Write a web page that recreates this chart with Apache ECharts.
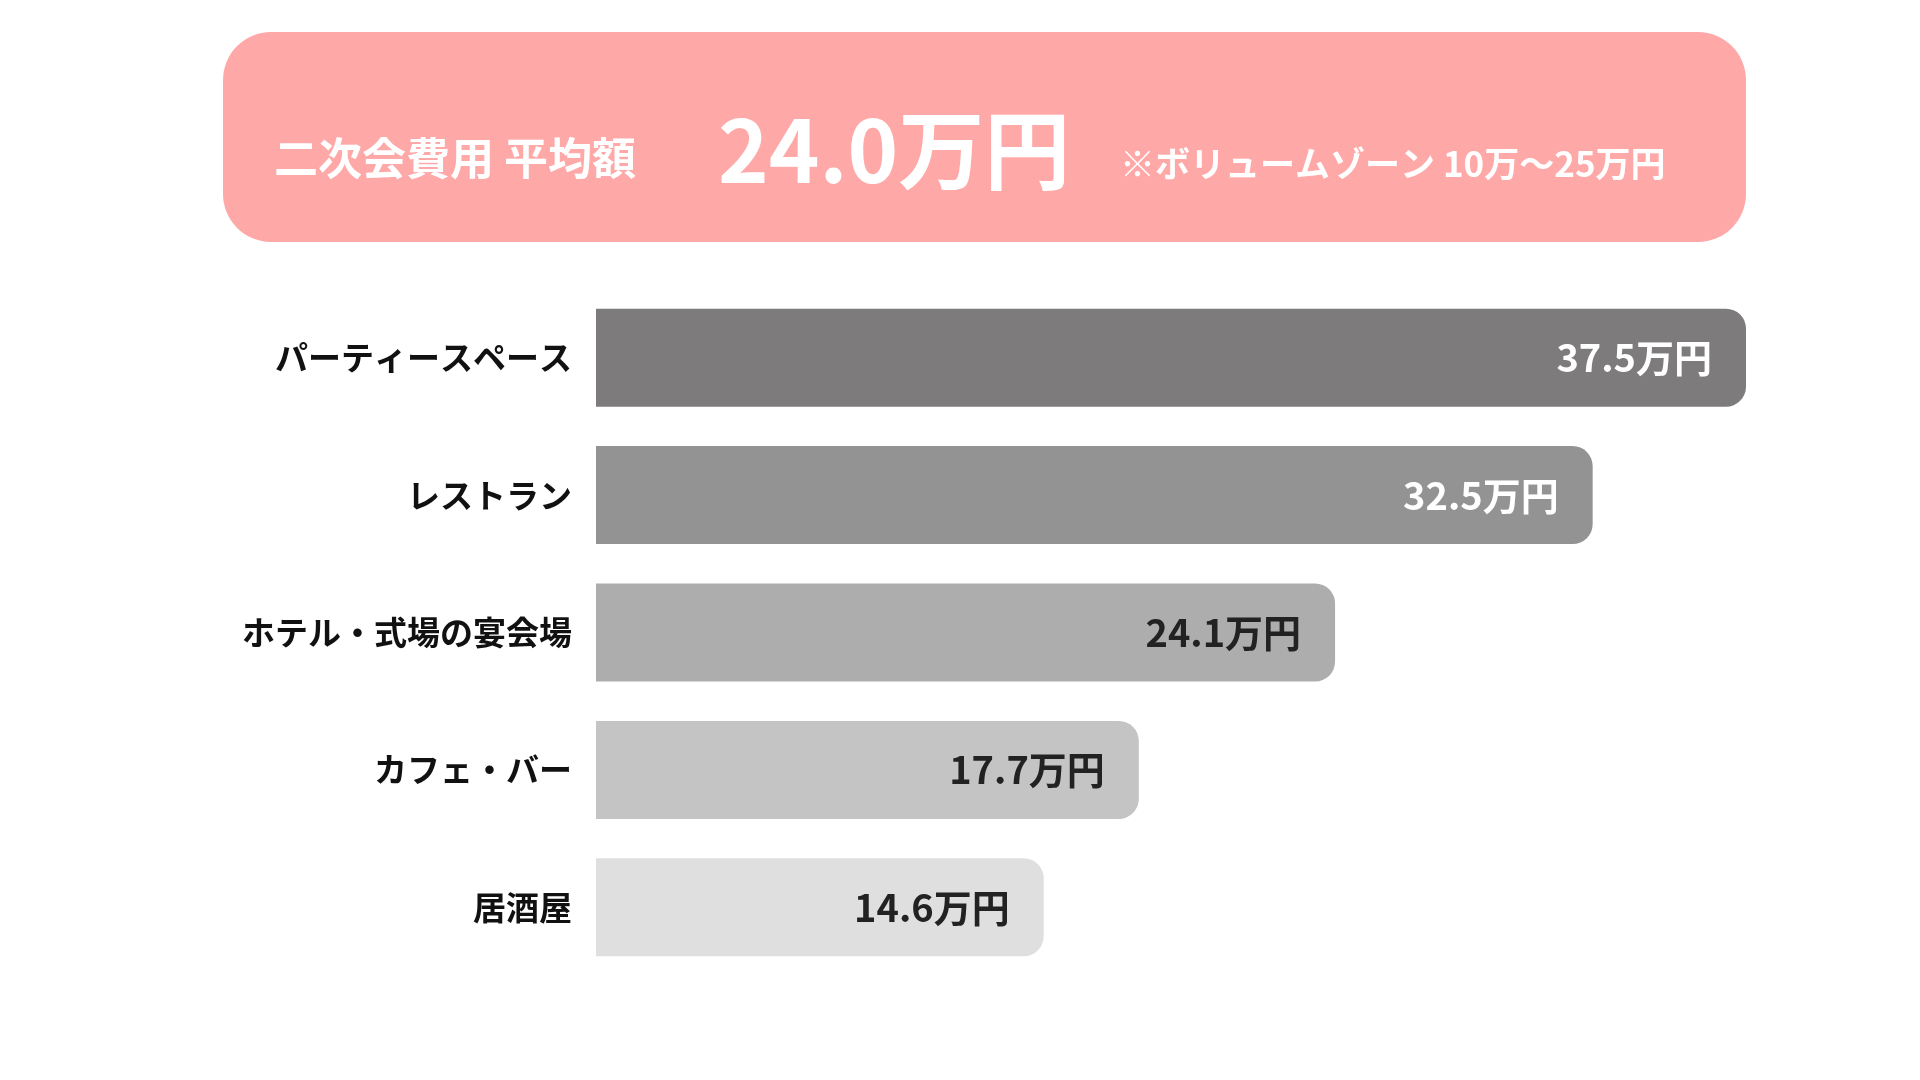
<!DOCTYPE html>
<html><head><meta charset="utf-8">
<script src="https://cdn.jsdelivr.net/npm/echarts@6/dist/echarts.min.js"></script>
<style>html,body{margin:0;padding:0;background:#fff}#c{width:1920px;height:1080px}</style>
</head><body><div id="c"></div>
<script>
const categories = ['パーティースペース','レストラン','ホテル・式場の宴会場','カフェ・バー','居酒屋'];
const values = [37.5, 32.5, 24.1, 17.7, 14.6];
const barColors = ['#7d7b7c','#939393','#adadad','#c5c4c5','#dfdfe0'];
const labelColors = ['#ffffff','#ffffff','#222222','#222222','#222222'];
const bannerTitle = '二次会費用 平均額';
const bannerValue = '24.0万円';
const bannerNote = '※ボリュームゾーン 10万～25万円';
const F = '"Noto Sans CJK JP", "Noto Sans", sans-serif';
const chart = echarts.init(document.getElementById('c'));
chart.setOption({
  backgroundColor:'#fff',
  animation:false,
  grid:{left:596, right:174, top:289, bottom:104},
  xAxis:{type:'value', min:0, max:37.5, show:false},
  yAxis:{type:'category', inverse:true, data:categories,
    axisLine:{show:false}, axisTick:{show:false},
    axisLabel:{margin:24, fontFamily:F, fontWeight:'bold', fontSize:33, color:'#111'}},
  series:[{type:'bar', barWidth:98,
    data: values.map((v,i)=>({value:v,
      itemStyle:{color:barColors[i], borderRadius:[0,20,20,0]},
      label:{color:labelColors[i]}})),
    label:{show:true, position:'insideRight', distance:34, fontFamily:F, fontWeight:'bold', fontSize:38,
      formatter: p => p.value.toFixed(1)+'万円'}
  }],
  graphic:[
    {type:'rect', shape:{x:223, y:32, width:1523, height:210, r:48}, style:{fill:'#ffa8a8'}},
    {type:'text', x:274, y:158, style:{text:bannerTitle, font:'bold 44px '+F, fill:'#fff', textVerticalAlign:'middle'}},
    {type:'text', x:718, y:150, style:{text:bannerValue, font:'bold 86px '+F, fill:'#fff', textVerticalAlign:'middle'}},
    {type:'text', x:1120, y:164, style:{text:bannerNote, font:'bold 35px '+F, fill:'#fff', textVerticalAlign:'middle'}}
  ]
});
</script></body></html>
